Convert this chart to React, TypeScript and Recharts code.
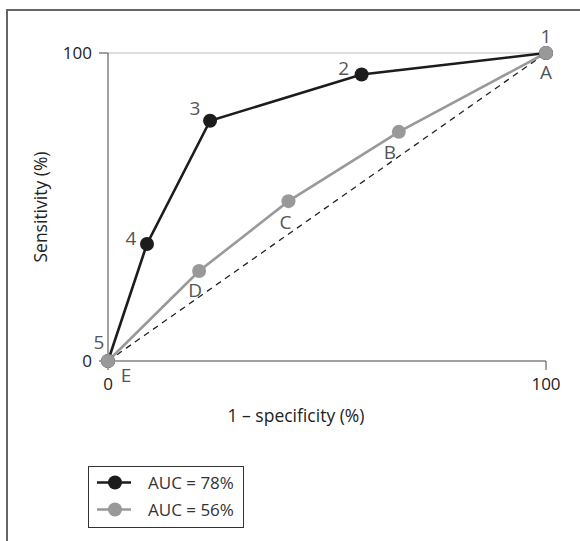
import { LineChart, Line, XAxis, YAxis, ReferenceLine, LabelList, Label } from 'recharts'

// ROC curve 1 (black) — 1-specificity vs sensitivity, cut-off points 5..1
const FPR_A = [0, 8.9, 23.3, 57.9, 100]
const TPR_A = [0, 38, 78, 93, 100]
const POINTS_A = ['5', '4', '3', '2', '1']

// ROC curve 2 (gray), cut-off points E..A
const FPR_B = [0, 20.8, 41.2, 66.4, 100]
const TPR_B = [0, 29.2, 51.9, 74.4, 100]
const POINTS_B = ['E', 'D', 'C', 'B', 'A']

const X_TICKS = [0, 100]
const Y_TICKS = [0, 100]
const SERIES_NAMES = ['AUC = 78%', 'AUC = 56%']

const BLACK = '#1c1c1c'
const GRAY = '#999999'
const FONT = '"Open Sans", sans-serif'

// where each point label sits relative to its dot
const LABEL_OFFSET: Record<string, [number, number]> = {
  '1': [0, -17],
  '2': [-18, -7],
  '3': [-15, -13],
  '4': [-16, -6],
  '5': [-9, -19],
  A: [0, 19],
  B: [-9, 20],
  C: [-3, 21],
  D: [-4, 19],
  E: [18, 14],
}

const dataA = FPR_A.map((x, i) => ({ x, y: TPR_A[i], name: POINTS_A[i] }))
const dataB = FPR_B.map((x, i) => ({ x, y: TPR_B[i], name: POINTS_B[i] }))

const series = [
  { name: SERIES_NAMES[0], data: dataA, color: BLACK },
  { name: SERIES_NAMES[1], data: dataB, color: GRAY },
]

function PointLabel(props: any) {
  const vb = props.viewBox || {}
  const x = vb.x ?? props.x
  const y = vb.y ?? props.y
  const [dx, dy] = LABEL_OFFSET[String(props.value)] || [0, 0]
  return (
    <text
      x={x + dx}
      y={y + dy}
      textAnchor="middle"
      dominantBaseline="central"
      fontSize={19}
      fill="#555"
      fontFamily={FONT}
    >
      {props.value}
    </text>
  )
}

function YTitle({ viewBox }: any) {
  const cx = viewBox.x + viewBox.width - 68
  const cy = viewBox.y + viewBox.height / 2
  return (
    <text
      x={cx}
      y={cy}
      transform={`rotate(-90, ${cx}, ${cy})`}
      textAnchor="middle"
      dominantBaseline="central"
      fontSize={17.5}
      fill="#222"
      fontFamily={FONT}
    >
      Sensitivity (%)
    </text>
  )
}

function XTitle({ viewBox }: any) {
  const cx = viewBox.x + viewBox.width / 2 - 31
  const cy = viewBox.y + 54
  return (
    <text
      x={cx}
      y={cy}
      textAnchor="middle"
      dominantBaseline="central"
      fontSize={17.5}
      fill="#222"
      fontFamily={FONT}
    >
      1 – specificity (%)
    </text>
  )
}

function ChartLegend() {
  return (
    <div
      style={{
        position: 'absolute',
        left: 88,
        top: 466,
        width: 156,
        height: 62,
        boxSizing: 'border-box',
        border: '1.5px solid #333',
        background: '#fff',
      }}
    >
      {series.map((s, i) => (
        <div
          key={s.name}
          style={{ position: 'absolute', left: 0, top: 2 + i * 27, height: 27, width: '100%' }}
        >
          <svg width={50} height={27} style={{ position: 'absolute', left: 0, top: 0 }}>
            <line x1={8} x2={42} y1={13.5} y2={13.5} stroke={s.color} strokeWidth={2.5} />
            <circle cx={26} cy={13.5} r={7} fill={s.color} />
          </svg>
          <span
            style={{
              position: 'absolute',
              left: 59,
              top: 0,
              lineHeight: '27px',
              fontSize: 17,
              color: '#333',
              fontFamily: FONT,
              whiteSpace: 'nowrap',
            }}
          >
            {s.name}
          </span>
        </div>
      ))}
    </div>
  )
}

export default function App() {
  return (
    <div
      style={{
        position: 'relative',
        width: 580,
        height: 541,
        overflow: 'hidden',
        background: '#fff',
        fontFamily: FONT,
      }}
    >
      <style>{'html, body { margin: 0; padding: 0; overflow: hidden; }'}</style>
      {/* frame: only the top and left edges fall inside the picture */}
      <div style={{ position: 'absolute', left: 6, top: 9, width: 574, height: 2, background: '#666' }} />
      <div style={{ position: 'absolute', left: 6, top: 9, width: 2, height: 532, background: '#666' }} />
      <div style={{ position: 'absolute', left: 0, top: 0 }}>
        <LineChart
          width={580}
          height={541}
          margin={{ top: 53, right: 34, bottom: 120, left: 0 }}
          accessibilityLayer={false}
        >
          <XAxis
            dataKey="x"
            type="number"
            domain={[0, 100]}
            ticks={X_TICKS}
            stroke="#444"
            tickSize={9}
            tickMargin={8}
            height={60}
            tick={{ fontSize: 17, fill: '#222', fontFamily: FONT }}
          >
            <Label content={<XTitle />} />
          </XAxis>
          <YAxis
            dataKey="y"
            type="number"
            domain={[0, 100]}
            ticks={Y_TICKS}
            stroke="#444"
            tickSize={9}
            tickMargin={7}
            width={108}
            tick={{ fontSize: 17, fill: '#222', fontFamily: FONT }}
          >
            <Label content={<YTitle />} />
          </YAxis>
          <ReferenceLine y={100} stroke="#bbb" strokeWidth={1} />
          <ReferenceLine
            segment={[
              { x: 0, y: 0 },
              { x: 100, y: 100 },
            ]}
            stroke="#222"
            strokeWidth={1.3}
            strokeDasharray="6 5"
          />
          {series.map((s) => (
            <Line
              key={s.name}
              name={s.name}
              data={s.data}
              dataKey="y"
              stroke={s.color}
              strokeWidth={2.6}
              dot={{ r: 7, fill: s.color, stroke: 'none' }}
              activeDot={false}
              isAnimationActive={false}
            >
              <LabelList dataKey="name" content={<PointLabel />} />
            </Line>
          ))}
        </LineChart>
      </div>
      <ChartLegend />
    </div>
  )
}
